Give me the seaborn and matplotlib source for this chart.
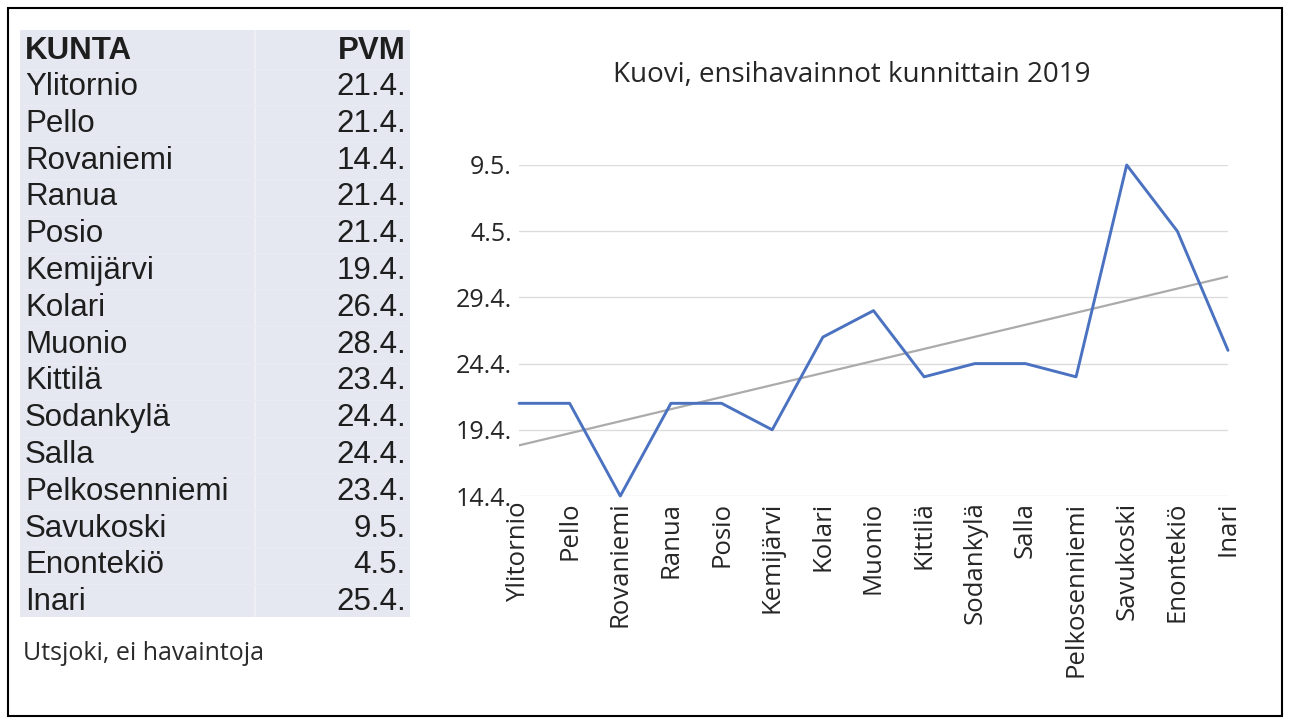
import matplotlib
matplotlib.use('Agg')
import matplotlib.pyplot as plt
import seaborn as sns
import numpy as np
from matplotlib.patches import Rectangle

# data
kunnat = ['Ylitornio', 'Pello', 'Rovaniemi', 'Ranua', 'Posio', 'Kemijärvi', 'Kolari',
          'Muonio', 'Kittilä', 'Sodankylä', 'Salla', 'Pelkosenniemi', 'Savukoski',
          'Enontekiö', 'Inari']
pvm = ['21.4.', '21.4.', '14.4.', '21.4.', '21.4.', '19.4.', '26.4.', '28.4.', '23.4.',
       '24.4.', '24.4.', '23.4.', '9.5.', '4.5.', '25.4.']
# days counted from 1st of April (9.5. = 39)
paiva = [21, 21, 14, 21, 21, 19, 26, 28, 23, 24, 24, 23, 39, 34, 25]
ytick_days = [14, 19, 24, 29, 34, 39]
ytick_labels = ['14.4.', '19.4.', '24.4.', '29.4.', '4.5.', '9.5.']

W, H = 1290, 724
sns.set_style('white')
plt.rcParams['font.family'] = ['Liberation Sans', 'DejaVu Sans']
chart_font = ['Open Sans', 'DejaVu Sans']

fig = plt.figure(figsize=(W / 100, H / 100), dpi=100)

# outer frame
fig.patches.append(Rectangle((8 / W, 8 / H), 1274 / W, 708 / H, transform=fig.transFigure,
                             fill=False, edgecolor='black', lw=1.5))

# table on the left
axt = fig.add_axes([20 / W, (H - 617) / H, 390 / W, 587 / H])
axt.set_facecolor('#e5e8f0')
for s in axt.spines.values():
    s.set_visible(False)
axt.set_xlim(0, 390)
axt.set_ylim(15.4, -0.55)
axt.set_xticks([])
axt.set_yticks([])
axt.axvline(235, color='#edeff5', lw=1.5)
for r in range(16):
    axt.axhline(r + 0.5, color='#e9ebf2', lw=0.8)

txt_kw = dict(fontsize=22.5, va='center', color='#1e1e1e')
axt.text(5, 0.02, 'KUNTA', fontweight='bold', ha='left', **txt_kw)
axt.text(386, 0.02, 'PVM', fontweight='bold', ha='right', **txt_kw)
for i, (k, p) in enumerate(zip(kunnat, pvm)):
    axt.text(5, i + 1, k, ha='left', **txt_kw)
    axt.text(386, i + 1, p, ha='right', **txt_kw)

fig.text(23 / W, 1 - 654 / H, 'Utsjoki, ei havaintoja', fontsize=18, family=chart_font,
         va='center', ha='left', color='#2b2b2b')

# line chart
ax = fig.add_axes([519 / W, (H - 496) / H, 709 / W, 331 / H])
idx = np.arange(len(kunnat))
sns.regplot(x=idx, y=paiva, ax=ax, scatter=False, ci=None, truncate=True,
            line_kws={'color': '#ababab', 'lw': 1.6})
sns.lineplot(x=idx, y=paiva, ax=ax, color='#4a72c0', lw=2.1, clip_on=False)
ax.set_xlim(0, len(kunnat) - 1)
ax.set_ylim(ytick_days[0], ytick_days[-1])
ax.set_yticks(ytick_days)
ax.set_yticklabels(ytick_labels, family=chart_font, fontsize=18, color='#262626')
ax.set_xticks(idx)
ax.set_xticklabels(kunnat, rotation=90, family=chart_font, fontsize=18.5, color='#262626')
ax.tick_params(axis='y', length=0, pad=5)
ax.tick_params(axis='x', length=0, pad=4)
ax.grid(axis='y', color='#dcdcdc', lw=1)
ax.grid(axis='x', visible=False)
for s in ax.spines.values():
    s.set_visible(False)
ax.set_xlabel('')
ax.set_ylabel('')

fig.text(852 / W, 1 - 75 / H, 'Kuovi, ensihavainnot kunnittain 2019', family=chart_font,
         fontsize=20, ha='center', va='center', color='#262626')

fig.savefig('out.png', dpi=100)
